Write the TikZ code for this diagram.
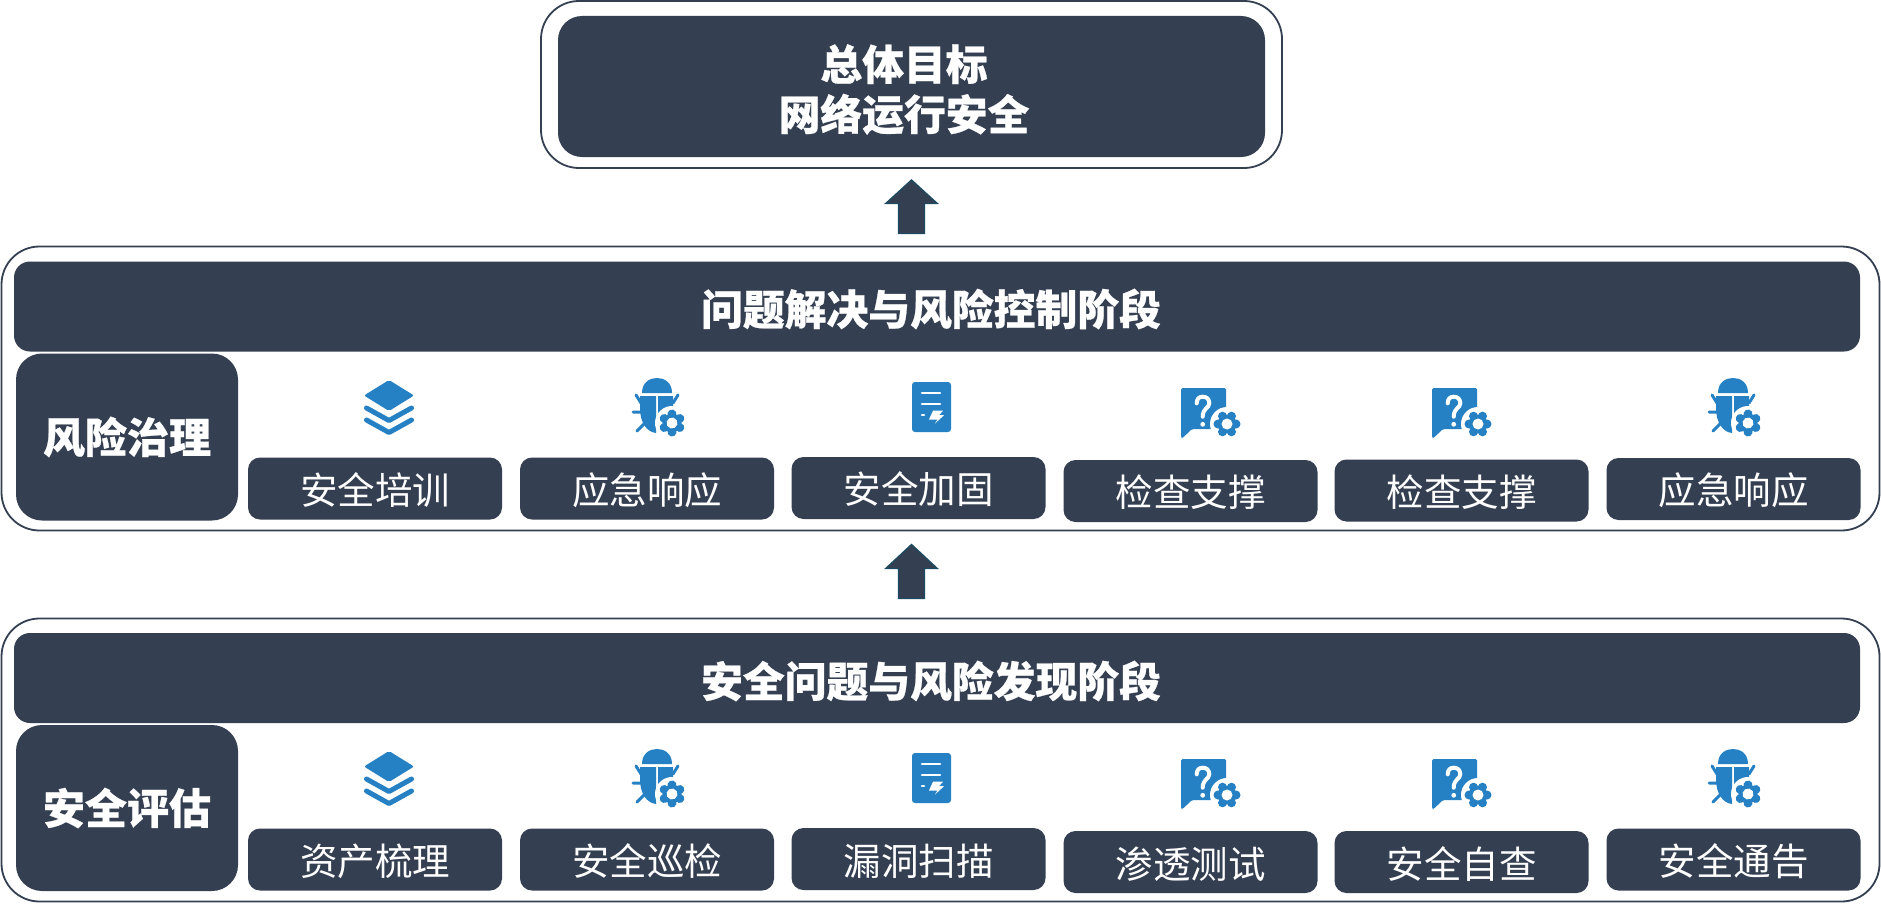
\documentclass[tikz,border=0pt]{standalone}
\usepackage{fontspec}
\setmainfont{Noto Sans CJK SC}
\usetikzlibrary{arrows.meta}
\definecolor{panelfill}{HTML}{343F52}
\definecolor{iconblue}{HTML}{2581C4}
\definecolor{arrowedge}{HTML}{1B4A62}
\tikzset{
  panel/.style={draw=panelfill,line width=1.8pt,fill=white,rounded corners=38pt,inner sep=0pt},
  darkbox/.style={fill=panelfill,text=white,inner sep=0pt,align=center},
  headbar/.style={darkbox,rounded corners=16pt,minimum width=1846pt,minimum height=90pt},
  sidebox/.style={darkbox,rounded corners=26pt,minimum width=222pt,font=\fontsize{42}{50}\selectfont\bfseries\addfontfeature{FakeBold=0.6}},
  itembox/.style={darkbox,rounded corners=12pt,minimum width=254pt,minimum height=62pt,font=\fontsize{37.5}{44}\selectfont},
  titletext/.style={text=white,inner sep=0pt,align=center,font=\fontsize{41.8}{50}\selectfont\bfseries\addfontfeature{FakeBold=0.6}},
  flowarrow/.style={draw=arrowedge,fill=panelfill,line width=1.2pt,line join=miter,
    to path={--([xshift=-13pt]\tikztostart)--([xshift=-13pt,yshift=30pt]\tikztostart)
      --([xshift=-26pt,yshift=30pt]\tikztostart)--(\tikztotarget)
      --([xshift=26pt,yshift=30pt]\tikztostart)--([xshift=13pt,yshift=30pt]\tikztostart)
      --([xshift=13pt]\tikztostart)--cycle}},
  gearicon/.pic={
    \fill[white] (0,0) circle [radius=17];
    \foreach \a in {0,60,...,300} \fill[iconblue] (\a:9) circle [radius=4.5];
    \fill[iconblue] (0,0) circle [radius=9.5];
    \fill[white] (0,0) circle [radius=5.5];
  },
  layersicon/.pic={
    \fill[iconblue,rounded corners=2pt] (0,0)--(25,15.5)--(0,31)--(-25,15.5)--cycle;
    \draw[iconblue,line width=5pt] (-22.5,28)--(0,40.5)--(22.5,28);
    \draw[iconblue,line width=5pt] (-22.5,40)--(0,52.5)--(22.5,40);
  },
  bugicon/.pic={
    \fill[iconblue] (-15,15) .. controls (-15,4) and (-7,0) .. (0,0) .. controls (7,0) and (15,4) .. (15,15)--cycle;
    \fill[iconblue] (-17,18)--(-1,18)--(-1,55) .. controls (-10,54) and (-17,45) .. (-17,30)--cycle;
    \fill[iconblue] (1,18)--(16,18)--(16,35)--(1,55)--cycle;
    \draw[iconblue,line width=3pt] (-21,17)--(-16,25) (-24,34)--(-16,34) (-20,53)--(-13,46) (21,17)--(16,25);
    \pic[rotate=30] at (15,45) {gearicon};
  },
  docicon/.pic={
    \fill[iconblue,rounded corners=3pt] (-19.5,0) rectangle (19.5,50);
    \draw[white,line width=2.5pt] (-9.5,11)--(8.5,11) (-9.5,22)--(8.5,22) (-9.5,33)--(-7.5,33);
    \fill[white] (1.5,28.7)--(11.5,28.7)--(7.5,33.2)--(12.5,33.2)--(3.5,41.5)--(6,37.5)--(-2.5,37.5)--cycle;
  },
  askicon/.pic={
    \fill[iconblue,rounded corners=1.5pt] (0,0)--(45,0)--(45,41)--(11,41)--(1.5,50)--(0,50)--cycle;
    \draw[white,line width=4pt] (15.7,15.3) .. controls (15.7,11) and (18,8.7) .. (21.7,8.7) .. controls (25.5,8.7) and (28.3,11) .. (28.3,15.3) .. controls (28.3,20) and (21.7,20) .. (21.7,28.7);
    \fill[white] (21.7,36.3) circle [radius=2.4];
    \pic at (46,36) {gearicon};
  }
}
\begin{document}
\begin{tikzpicture}[line cap=round,line join=round,x=1pt,y=-1pt]
\useasboundingbox (0,0) rectangle (1881,907);
% goal
\node [panel,minimum width=741pt,minimum height=167pt] (goalpanel) at (911.5,84.5) {};
\node [darkbox,rounded corners=24pt,minimum width=707pt,minimum height=141pt] (goalbox) at (911.5,86.5) {};
\node [titletext] (goaltext) at (904,89.5) {总体目标\\网络运行安全};
% stages
\node [panel,minimum width=1878pt,minimum height=284pt] (riskpanel) at (940.5,388.5) {};
\node [panel,minimum width=1878pt,minimum height=283pt] (evalpanel) at (940.5,760) {};
\node [headbar] (riskbar) at (937,306.5) {};
\node [headbar] (evalbar) at (937,678) {};
\node [titletext] (risktitle) at (931,309) {问题解决与风险控制阶段};
\node [titletext] (evaltitle) at (931,681) {安全问题与风险发现阶段};
\node [sidebox,minimum height=167pt] (riskside) at (127,437) {风险治理};
\node [sidebox,minimum height=166pt] (evalside) at (127,808) {安全评估};
\foreach \n/\x/\y/\t in {1/375/488.5/安全培训,2/647/488.5/应急响应,3/918.5/488/安全加固,4/1190.5/491/检查支撑,5/1461.5/490.5/检查支撑,6/1733.5/489/应急响应}
  \node [itembox] (riskitem\n) at (\x,\y) {\raisebox{0pt}[31pt][0pt]{\t}};
\foreach \n/\x/\y/\t in {1/375/859.5/资产梳理,2/647/859.5/安全巡检,3/918.5/859/漏洞扫描,4/1190.5/862/渗透测试,5/1461.5/862/安全自查,6/1733.5/859.5/安全通告}
  \node [itembox] (evalitem\n) at (\x,\y) {\raisebox{0pt}[32pt][0pt]{\t}};
% icons, lower row is the upper one moved down
\foreach \dy in {0,371} {
  \pic at (389,380+\dy) {layersicon};
  \pic at (657,378+\dy) {bugicon};
  \pic at (931.5,382+\dy) {docicon};
  \pic at (1181,388+\dy) {askicon};
  \pic at (1432,388+\dy) {askicon};
  \pic at (1733,378+\dy) {bugicon};
}
% arrows
\draw [flowarrow] ([yshift=12pt]riskpanel.north -| goalpanel.south) to ([yshift=-11pt]goalpanel.south);
\coordinate (riskfoot) at (riskpanel.south -| goalpanel.south);
\draw [flowarrow] ([yshift=19pt]evalpanel.north -| goalpanel.south) to ([yshift=-13pt]riskfoot);
\end{tikzpicture}
\end{document}
